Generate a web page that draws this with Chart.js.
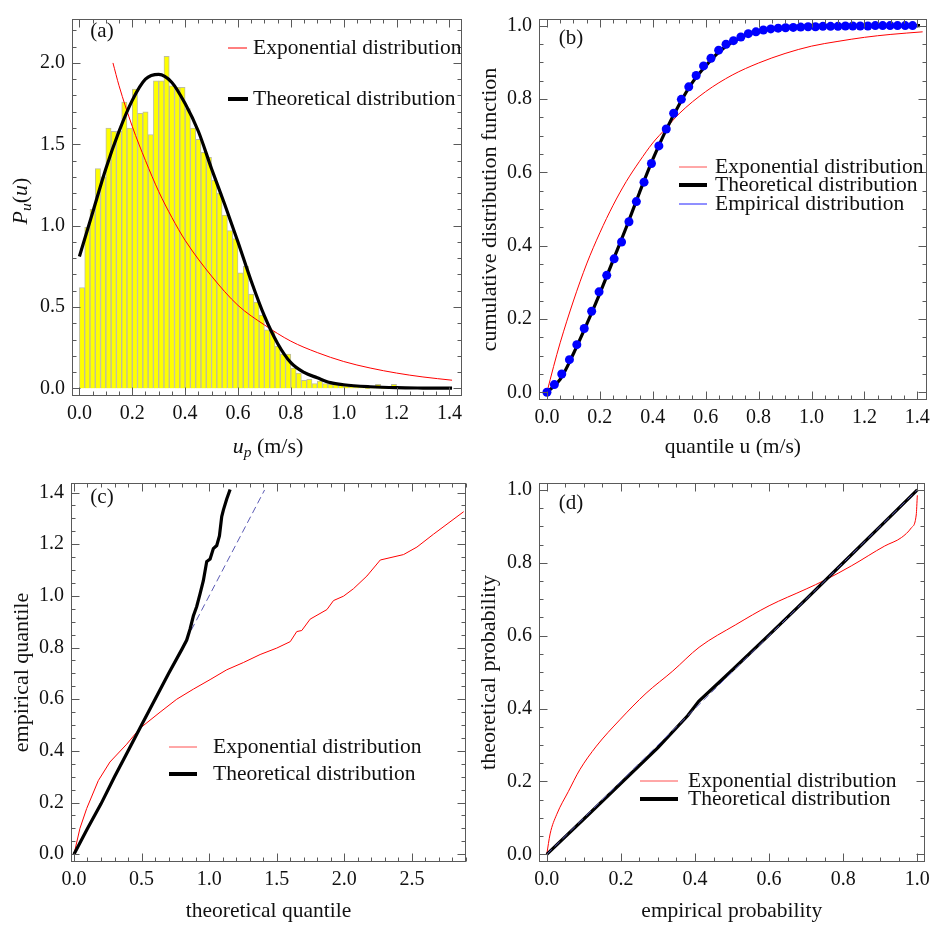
<!DOCTYPE html>
<html>
<head>
<meta charset="utf-8">
<script src="https://cdn.jsdelivr.net/npm/chart.js@4.4.0/dist/chart.umd.min.js"></script>
<style>
  body { margin: 0; background: #fff; }
  canvas { position: absolute; }
</style>
</head>
<body>
<canvas id="chartA" width="468" height="464" style="left:0;top:0"></canvas>
<canvas id="chartB" width="468" height="464" style="left:468px;top:0"></canvas>
<canvas id="chartC" width="468" height="469" style="left:0;top:464px"></canvas>
<canvas id="chartD" width="468" height="469" style="left:468px;top:464px"></canvas>
<script>
// ---- panel (a): histogram + densities ----
const histCenters = [0.01, 0.03, 0.05, 0.07, 0.09, 0.11, 0.13, 0.15, 0.17, 0.19,
  0.21, 0.23, 0.25, 0.27, 0.29, 0.31, 0.33, 0.35, 0.37, 0.39,
  0.41, 0.43, 0.45, 0.47, 0.49, 0.51, 0.53, 0.55, 0.57, 0.59,
  0.61, 0.63, 0.65, 0.67, 0.69, 0.71, 0.73, 0.75, 0.77, 0.79,
  0.81, 0.83, 0.85, 0.87, 0.89, 0.91, 0.93, 0.95, 0.97, 0.99,
  1.01, 1.03, 1.05, 1.07, 1.09, 1.11, 1.13, 1.15, 1.17, 1.19, 1.21];
const histHeights = [0.62, 0.99, 1.10, 1.35, 1.30, 1.60, 1.58, 1.58, 1.76, 1.60,
  1.84, 1.69, 1.70, 1.56, 1.89, 1.89, 2.04, 1.86, 1.85, 1.85,
  1.72, 1.60, 1.53, 1.45, 1.42, 1.28, 1.20, 1.065, 0.97, 0.92,
  0.71, 0.75, 0.58, 0.53, 0.45, 0.36, 0.35, 0.26, 0.21, 0.21,
  0.124, 0.094, 0.05, 0.055, 0.03, 0.045, 0.03, 0.025, 0.03, 0.02,
  0.015, 0.01, 0.01, 0.008, 0.005, 0.008, 0.025, 0.005, 0.005, 0.025, 0.004];
const aExpX = [0.127, 0.15, 0.2, 0.25, 0.3, 0.35, 0.4, 0.5, 0.6, 0.7, 0.8, 0.9, 1.0, 1.1, 1.2, 1.3, 1.41];
const aExpY = [2.00, 1.86, 1.61, 1.40, 1.21, 1.05, 0.91, 0.69, 0.51, 0.39, 0.29, 0.22, 0.165, 0.125, 0.094, 0.070, 0.050];
const aTheoX = [0, 0.05, 0.1, 0.15, 0.2, 0.25, 0.3, 0.35, 0.4, 0.45, 0.5, 0.55, 0.6, 0.65, 0.7, 0.75, 0.8, 0.85, 0.9, 0.95, 1.0, 1.1, 1.2, 1.3, 1.41];
const aTheoY = [0.81, 1.08, 1.35, 1.58, 1.77, 1.90, 1.93, 1.88, 1.75, 1.58, 1.35, 1.13, 0.90, 0.66, 0.445, 0.276, 0.158, 0.098, 0.065, 0.035, 0.022, 0.01, 0.004, 0.002, 0.001];
const aXTicks = [0, 0.2, 0.4, 0.6, 0.8, 1.0, 1.2, 1.4];
const aYTicks = [0, 0.5, 1.0, 1.5, 2.0];

// ---- panel (b): cumulative distribution ----
const bEmpX = [0.000, 0.028, 0.056, 0.085, 0.113, 0.141, 0.169, 0.197, 0.226, 0.254,
  0.282, 0.310, 0.338, 0.367, 0.395, 0.423, 0.451, 0.479, 0.508, 0.536,
  0.564, 0.592, 0.620, 0.649, 0.677, 0.705, 0.733, 0.761, 0.790, 0.818,
  0.846, 0.874, 0.902, 0.931, 0.959, 0.987, 1.015, 1.043, 1.072, 1.100,
  1.128, 1.156, 1.184, 1.213, 1.241, 1.269, 1.297, 1.325, 1.354, 1.382];
const bEmpY = [0.000, 0.021, 0.050, 0.089, 0.130, 0.174, 0.221, 0.274, 0.319, 0.364,
  0.410, 0.465, 0.520, 0.573, 0.624, 0.672, 0.718, 0.761, 0.799, 0.833,
  0.864, 0.890, 0.911, 0.933, 0.949, 0.959, 0.969, 0.978, 0.983, 0.988,
  0.991, 0.993, 0.994, 0.995, 0.996, 0.997, 0.997, 0.998, 0.998, 0.998,
  0.999, 0.999, 0.999, 0.999, 1.000, 1.000, 1.000, 1.000, 1.000, 1.000];
const bTheoX = [0, 0.05, 0.1, 0.15, 0.2, 0.25, 0.3, 0.35, 0.4, 0.45, 0.5, 0.55, 0.6, 0.65, 0.7, 0.75, 0.8, 0.9, 1.0, 1.2, 1.41];
const bTheoY = [0, 0.035, 0.105, 0.185, 0.270, 0.36, 0.45, 0.545, 0.635, 0.715, 0.785, 0.845, 0.89, 0.928, 0.955, 0.973, 0.985, 0.995, 0.999, 1.0, 1.0];
const bExpX = [0, 0.025, 0.05, 0.1, 0.15, 0.2, 0.25, 0.3, 0.35, 0.4, 0.45, 0.5, 0.6, 0.7, 0.8, 0.9, 1.0, 1.1, 1.2, 1.3, 1.42];
const bExpY = [0, 0.07, 0.135, 0.249, 0.35, 0.435, 0.51, 0.575, 0.63, 0.68, 0.72, 0.76, 0.82, 0.865, 0.898, 0.924, 0.944, 0.957, 0.968, 0.976, 0.983];
const bXTicks = [0, 0.2, 0.4, 0.6, 0.8, 1.0, 1.2, 1.4];
const bYTicks = [0, 0.2, 0.4, 0.6, 0.8, 1.0];

// ---- panel (c): Q-Q plot ----
const cExpX = [0, 0.044, 0.094, 0.18, 0.266, 0.39, 0.489, 0.637, 0.76, 0.883, 1.007, 1.13, 1.253, 1.377, 1.5, 1.6, 1.648, 1.685, 1.747, 1.871, 1.92, 1.994, 2.068, 2.167, 2.266, 2.438, 2.537, 2.66, 2.883];
const cExpY = [0, 0.10, 0.177, 0.285, 0.357, 0.426, 0.488, 0.55, 0.60, 0.639, 0.676, 0.714, 0.742, 0.773, 0.798, 0.823, 0.862, 0.866, 0.91, 0.947, 0.982, 0.999, 1.028, 1.077, 1.139, 1.160, 1.189, 1.239, 1.326];
const cTheoX = [0, 0.1, 0.2, 0.3, 0.4, 0.5, 0.6, 0.7, 0.8, 0.834, 0.859, 0.883, 0.908, 0.933, 0.957, 0.982, 1.007, 1.031, 1.056, 1.076, 1.093, 1.105, 1.13, 1.155];
const cTheoY = [0, 0.1, 0.195, 0.3, 0.4, 0.5, 0.6, 0.7, 0.795, 0.829, 0.872, 0.922, 0.959, 1.009, 1.059, 1.133, 1.143, 1.183, 1.195, 1.232, 1.307, 1.332, 1.375, 1.412];
const cRefX = [0, 1.41];
const cRefY = [0, 1.41];
const cXTicks = [0, 0.5, 1.0, 1.5, 2.0, 2.5];
const cYTicks = [0, 0.2, 0.4, 0.6, 0.8, 1.0, 1.2, 1.4];

// ---- panel (d): P-P plot ----
const dExpX = [0, 0.009, 0.027, 0.058, 0.089, 0.134, 0.197, 0.268, 0.34, 0.411, 0.51, 0.6, 0.7, 0.75, 0.823, 0.912, 0.957, 0.984, 0.997, 1.0];
const dExpY = [0, 0.056, 0.110, 0.172, 0.232, 0.297, 0.369, 0.442, 0.503, 0.568, 0.630, 0.682, 0.728, 0.752, 0.792, 0.846, 0.869, 0.896, 0.931, 0.985];
const dTheoX = [0, 0.1, 0.2, 0.3, 0.38, 0.41, 0.5, 0.6, 0.7, 0.8, 0.9, 1.0];
const dTheoY = [0, 0.097, 0.195, 0.293, 0.38, 0.42, 0.505, 0.602, 0.70, 0.80, 0.90, 1.0];
const dRefX = [0, 1];
const dRefY = [0, 1];
const dXTicks = [0, 0.2, 0.4, 0.6, 0.8, 1.0];
const dYTicks = [0, 0.2, 0.4, 0.6, 0.8, 1.0];

const FONT = "'Liberation Serif', 'Times New Roman', serif";
const RED = "#ff0000";
const REFBLUE = "#5a5ab4";

function pts(xs, ys) {
  return xs.map((x, i) => ({ x: x, y: ys[i] }));
}

// frame with inward major/minor ticks on all four sides
function framePlugin(cfg) {
  return {
    id: "frame",
    afterDraw(chart) {
      const ctx = chart.ctx, a = chart.chartArea, sx = chart.scales.x, sy = chart.scales.y;
      const marks = (scale, major, step) => {
        const out = major.map(v => [scale.getPixelForValue(v), 8]);
        for (let k = Math.ceil(scale.min / step - 1e-6); k * step <= scale.max + 1e-9; k++) {
          const v = k * step;
          if (!major.some(m => Math.abs(m - v) < 1e-6)) out.push([scale.getPixelForValue(v), 4]);
        }
        return out;
      };
      ctx.save();
      ctx.strokeStyle = "#5a5a5a";
      ctx.lineWidth = 1;
      const l = Math.round(a.left) + 0.5, r = Math.round(a.right) - 0.5;
      const t = Math.round(a.top) + 0.5, b = Math.round(a.bottom) - 0.5;
      ctx.strokeRect(l, t, r - l, b - t);
      ctx.beginPath();
      marks(sx, cfg.xTicks, cfg.xMinor).forEach(([p, len]) => {
        const px = Math.round(p) + 0.5;
        ctx.moveTo(px, b); ctx.lineTo(px, b - len);
        ctx.moveTo(px, t); ctx.lineTo(px, t + len);
      });
      marks(sy, cfg.yTicks, cfg.yMinor).forEach(([p, len]) => {
        const py = Math.round(p) + 0.5;
        ctx.moveTo(l, py); ctx.lineTo(l + len, py);
        ctx.moveTo(r, py); ctx.lineTo(r - len, py);
      });
      ctx.stroke();
      ctx.restore();
    }
  };
}

// rich text helper: parts = [{t, it, sub}]
function drawRich(ctx, parts, cx, cy, size, rot) {
  ctx.save();
  ctx.translate(cx, cy);
  if (rot) ctx.rotate(rot);
  const fontOf = p => (p.it ? "italic " : "") + (p.sub ? size * 0.7 : size) + "px " + FONT;
  let w = 0;
  parts.forEach(p => { ctx.font = fontOf(p); w += ctx.measureText(p.t).width; });
  let x = -w / 2;
  ctx.fillStyle = "#111";
  ctx.textBaseline = "middle";
  ctx.textAlign = "left";
  parts.forEach(p => {
    ctx.font = fontOf(p);
    ctx.fillText(p.t, x, p.sub ? size * 0.28 : 0);
    x += ctx.measureText(p.t).width;
  });
  ctx.restore();
}

// legend entries, panel label and special axis titles
function annotPlugin(ann) {
  return {
    id: "annot",
    afterDraw(chart) {
      const ctx = chart.ctx;
      ctx.save();
      ctx.textBaseline = "middle";
      ctx.fillStyle = "#111";
      ctx.font = "21px " + FONT;
      ctx.textAlign = "center";
      ctx.fillText(ann.label[0], ann.label[1], ann.label[2]);
      ctx.textAlign = "left";
      ctx.font = "21.5px " + FONT;
      ann.legend.forEach(it => {
        ctx.strokeStyle = it.color;
        ctx.lineWidth = it.width;
        ctx.beginPath();
        ctx.moveTo(it.x, it.y);
        ctx.lineTo(it.x + it.len, it.y);
        ctx.stroke();
        ctx.fillText(it.text, it.tx, it.y);
      });
      ctx.restore();
      (ann.rich || []).forEach(r => drawRich(ctx, r.parts, r.x, r.y, 22, r.rot));
    }
  };
}

function makeOptions(cfg) {
  return {
    responsive: false,
    animation: false,
    devicePixelRatio: 1,
    layout: { padding: cfg.pad },
    plugins: { legend: { display: false }, tooltip: { enabled: false } },
    scales: {
      x: {
        type: "linear", min: cfg.xMin, max: cfg.xMax, offset: false,
        grid: { display: false, drawTicks: false }, border: { display: false },
        afterFit: s => { s.height = cfg.xh; },
        afterBuildTicks: s => { s.ticks = cfg.xTicks.map(v => ({ value: v })); },
        ticks: { autoSkip: false, maxRotation: 0, padding: 6, color: "#111",
          font: { family: FONT, size: 20 }, callback: v => Number(v).toFixed(1) },
        title: cfg.xTitle ? { display: true, text: cfg.xTitle, color: "#111",
          font: { family: FONT, size: 21.5 }, padding: { top: 0, bottom: cfg.xTitlePad } } : { display: false }
      },
      y: {
        type: "linear", min: cfg.yMin, max: cfg.yMax,
        grid: { display: false, drawTicks: false }, border: { display: false },
        afterFit: s => { s.width = cfg.yw; },
        afterBuildTicks: s => { s.ticks = cfg.yTicks.map(v => ({ value: v })); },
        ticks: { autoSkip: false, padding: 7, color: "#111",
          font: { family: FONT, size: 20 }, callback: v => Number(v).toFixed(1) },
        title: cfg.yTitle ? { display: true, text: cfg.yTitle, color: "#111",
          font: { family: FONT, size: 22 }, padding: { top: cfg.yTitlePad, bottom: 0 } } : { display: false }
      }
    }
  };
}

function build(id, type, datasets, cfg) {
  return new Chart(document.getElementById(id), {
    type: type,
    data: { datasets: datasets },
    options: makeOptions(cfg),
    plugins: [framePlugin(cfg), annotPlugin(cfg.ann)]
  });
}

// (a)
build("chartA", "bar", [
  { type: "line", data: pts(aTheoX, aTheoY), borderColor: "#000", borderWidth: 3.2,
    pointRadius: 0, cubicInterpolationMode: "monotone", order: 0 },
  { type: "line", data: pts(aExpX, aExpY), borderColor: RED, borderWidth: 1,
    pointRadius: 0, cubicInterpolationMode: "monotone", order: 1 },
  { type: "bar", data: pts(histCenters, histHeights), backgroundColor: "#ffff00",
    borderColor: "#bdbda0", borderWidth: 1, barPercentage: 1, categoryPercentage: 1, order: 2 }
], {
  pad: { left: 0, right: 3, top: 2, bottom: 0 }, xh: 68, yw: 72,
  xMin: -0.028, xMax: 1.447, yMin: -0.047, yMax: 2.27,
  xTicks: aXTicks, xMinor: 0.05, yTicks: aYTicks, yMinor: 0.1,
  ann: {
    label: ["(a)", 102, 31],
    legend: [
      { color: RED, width: 1, x: 228, len: 19, y: 48, tx: 253, text: "Exponential distribution" },
      { color: "#000", width: 4, x: 228, len: 20, y: 99, tx: 253, text: "Theoretical distribution" }
    ],
    rich: [
      { x: 268, y: 447, rot: 0, parts: [{ t: "u", it: true }, { t: "p", it: true, sub: true }, { t: " (m/s)" }] },
      { x: 21, y: 201, rot: -Math.PI / 2, parts: [{ t: "P", it: true }, { t: "u", it: true, sub: true }, { t: "(" }, { t: "u", it: true }, { t: ")" }] }
    ]
  }
});

// (b)
build("chartB", "line", [
  { data: pts(bEmpX, bEmpY), showLine: false, pointRadius: 4.5, pointBackgroundColor: "#0000ff",
    pointBorderWidth: 0, borderColor: "#0000ff", order: 0 },
  { data: pts(bTheoX, bTheoY), borderColor: "#000", borderWidth: 3.2, pointRadius: 0,
    cubicInterpolationMode: "monotone", order: 1 },
  { data: pts(bExpX, bExpY), borderColor: RED, borderWidth: 1, pointRadius: 0,
    cubicInterpolationMode: "monotone", order: 2 }
], {
  pad: { left: 0, right: 6, top: 9, bottom: 0 }, xh: 64, yw: 71,
  xMin: -0.03, xMax: 1.436, yMin: -0.021, yMax: 1.018,
  xTicks: bXTicks, xMinor: 0.05, yTicks: bYTicks, yMinor: 0.05,
  xTitle: "quantile u (m/s)", xTitlePad: 4,
  yTitle: "cumulative distribution function", yTitlePad: 9,
  ann: {
    label: ["(b)", 103, 38],
    legend: [
      { color: "#ff5050", width: 1, x: 211, len: 28, y: 167, tx: 247, text: "Exponential distribution" },
      { color: "#000", width: 4, x: 211, len: 28, y: 185, tx: 247, text: "Theoretical distribution" },
      { color: "#2020ff", width: 1, x: 211, len: 28, y: 204, tx: 247, text: "Empirical distribution" }
    ]
  }
});

// (c)
build("chartC", "line", [
  { data: pts(cTheoX, cTheoY), borderColor: "#000", borderWidth: 3.2, pointRadius: 0, order: 0 },
  { data: pts(cRefX, cRefY), borderColor: REFBLUE, borderWidth: 1, borderDash: [7, 4], pointRadius: 0, order: 1 },
  { data: pts(cExpX, cExpY), borderColor: RED, borderWidth: 1, pointRadius: 0, order: 2 }
], {
  pad: { left: 0, right: 2, top: 4, bottom: 0 }, xh: 71, yw: 71,
  xMin: -0.022, xMax: 2.90, yMin: -0.03, yMax: 1.437,
  xTicks: cXTicks, xMinor: 0.1, yTicks: cYTicks, yMinor: 0.05,
  xTitle: "theoretical quantile", xTitlePad: 9,
  yTitle: "empirical quantile", yTitlePad: 9,
  ann: {
    label: ["(c)", 102, 33],
    legend: [
      { color: "#ff5050", width: 1, x: 169, len: 28, y: 283, tx: 213, text: "Exponential distribution" },
      { color: "#000", width: 4, x: 169, len: 28, y: 310, tx: 213, text: "Theoretical distribution" }
    ]
  }
});

// (d)
build("chartD", "line", [
  { data: pts(dTheoX, dTheoY), borderColor: "#000", borderWidth: 3.2, pointRadius: 0, order: 1 },
  { data: pts(dRefX, dRefY), borderColor: REFBLUE, borderWidth: 1, borderDash: [7, 4], pointRadius: 0, order: 0 },
  { data: pts(dExpX, dExpY), borderColor: RED, borderWidth: 1, pointRadius: 0,
    cubicInterpolationMode: "monotone", order: 2 }
], {
  pad: { left: 0, right: 9, top: 10, bottom: 0 }, xh: 71, yw: 71,
  xMin: -0.021, xMax: 1.0196, yMin: -0.021, yMax: 1.0188,
  xTicks: dXTicks, xMinor: 0.05, yTicks: dYTicks, yMinor: 0.05,
  xTitle: "empirical probability", xTitlePad: 9,
  yTitle: "theoretical probability", yTitlePad: 8,
  ann: {
    label: ["(d)", 103, 39],
    legend: [
      { color: "#ff5050", width: 1, x: 172, len: 38, y: 317, tx: 220, text: "Exponential distribution" },
      { color: "#000", width: 4, x: 172, len: 38, y: 335, tx: 220, text: "Theoretical distribution" }
    ]
  }
});
</script>
</body>
</html>
